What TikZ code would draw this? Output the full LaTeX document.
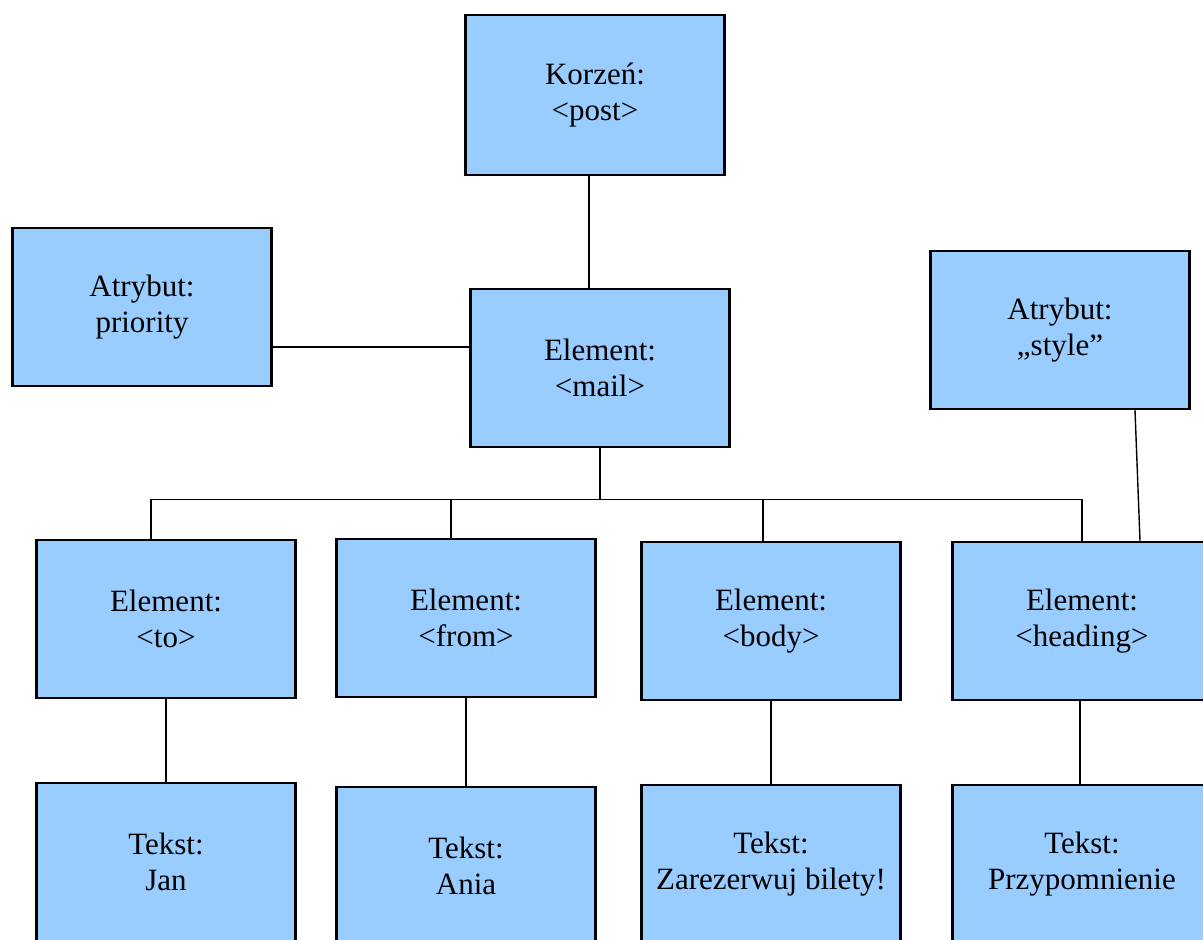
\documentclass[tikz,border=0pt]{standalone}
\usepackage{fontspec}
\setmainfont{Liberation Serif}
\definecolor{boxblue}{HTML}{99CCFF}
\tikzset{
  tag/.style = {draw, line width=2.5pt, fill=boxblue, rectangle, align=center,
    minimum width=259pt, minimum height=158pt, inner sep=0pt,
    font=\fontsize{31}{36}\selectfont},
  link/.style = {line width=1.4pt}
}
\begin{document}
\begin{tikzpicture}[x=1pt, y=1pt]
\useasboundingbox (0,0) rectangle (1203,940);
\clip (0,0) rectangle (1203,940);

\node[tag, minimum height=160pt] (root) at (595,845) {Korzeń:\\<post>};
\node[tag] (prio) at (142,633) {Atrybut:\\priority};
\node[tag] (mail) at (600,572) {Element:\\<mail>};
\node[tag] (style) at (1060,610) {Atrybut:\\„style”};

\node[tag] (to) at (166,321) {Element:\\<to>};
\node[tag] (from) at (466,322) {Element:\\<from>};
\node[tag] (body) at (771,319) {Element:\\<body>};
\node[tag] (heading) at (1082,319) {Element:\\<heading>};

\node[tag] (jan) at (166,78) {Tekst:\\Jan};
\node[tag] (ania) at (466,74) {Tekst:\\Ania};
\node[tag] (bilety) at (771,76) {Tekst:\\Zarezerwuj bilety!};
\node[tag] (przyp) at (1082,76) {Tekst:\\Przypomnienie};

\draw[link] ([xshift=-6pt]root.south) -- ([xshift=-11pt]mail.north);
\draw[link] ([yshift=-40pt]prio.east) -- ([yshift=21pt]mail.west);

% bus under <mail>
\draw[link] (mail.south) -- ++(0,-51) coordinate (bus);
\draw[link] ([xshift=-15pt]to.north) |- (bus) -| (heading.north);
\coordinate (fromtop) at ([xshift=-15pt]from.north);
\coordinate (bodytop) at ([xshift=-8pt]body.north);
\draw[link] (fromtop) -- (fromtop |- bus);
\draw[link] (bodytop) -- (bodytop |- bus);
\draw[link] ([xshift=75pt]style.south) -- ([xshift=58pt]heading.north);

\draw[link] (to) -- (jan);
\draw[link] (from) -- (ania);
\draw[link] (body) -- (bilety);
\draw[link] ([xshift=-2pt]heading.south) -- ([xshift=-2pt]przyp.north);
\end{tikzpicture}
\end{document}
